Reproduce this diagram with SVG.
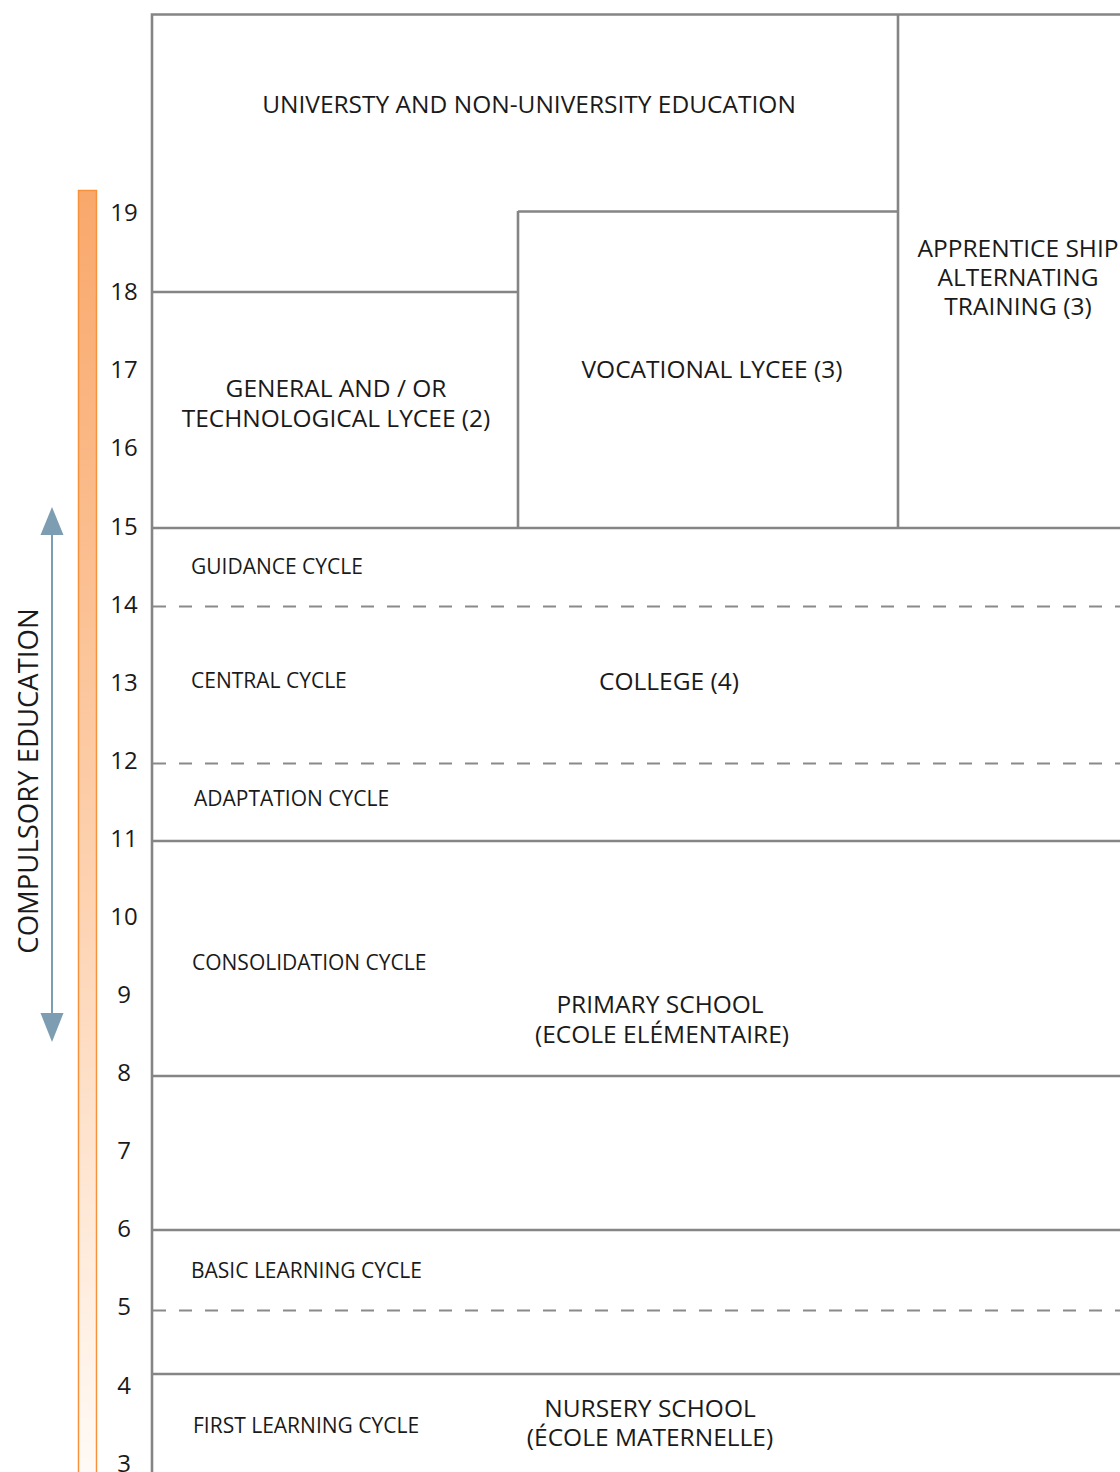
<svg xmlns="http://www.w3.org/2000/svg" width="1120" height="1472" viewBox="0 0 1120 1472">
  <style>
    .frame { stroke: #858585; stroke-width: 2.6; fill: none; }
    .dash { stroke: #8a8a8a; stroke-width: 2.2; fill: none; stroke-dasharray: 13 13; }
    text { font-family: "Open Sans", "Noto Sans", "Liberation Sans", sans-serif; fill: #1a1a1a; }
    .big { font-size: 24.5px; text-anchor: middle; }
    .age { font-size: 24px; text-anchor: middle; }
    .cyc { font-size: 21px; }
  </style>
  <defs>
    <linearGradient id="ageBar" x1="0" y1="0" x2="0" y2="1">
      <stop offset="0" stop-color="#F9A86B"/>
      <stop offset="0.55" stop-color="#FDD3B2"/>
      <stop offset="1" stop-color="#FFFBF7"/>
    </linearGradient>
  </defs>

  <rect width="1120" height="1472" fill="#ffffff"/>

  <!-- age scale bar -->
  <g id="age-bar">
    <rect x="78.5" y="190.5" width="18" height="1290" fill="url(#ageBar)" stroke="#F7923A" stroke-width="1.5"/>
  </g>

  <!-- compulsory education span -->
  <g id="compulsory">
    <line x1="52" y1="533" x2="52" y2="1015" stroke="#7C9DB2" stroke-width="2"/>
    <polygon points="52,507 40.5,535 63.5,535" fill="#7C9DB2"/>
    <polygon points="52,1042 40.5,1013 63.5,1013" fill="#7C9DB2"/>
    <text transform="translate(37.5,781) rotate(-90)" font-size="27.5" text-anchor="middle">COMPULSORY EDUCATION</text>
  </g>

  <!-- ages -->
  <g id="ages">
    <text class="age" x="124" y="221">19</text>
    <text class="age" x="124" y="300">18</text>
    <text class="age" x="124" y="378">17</text>
    <text class="age" x="124" y="456">16</text>
    <text class="age" x="124" y="535">15</text>
    <text class="age" x="124" y="613">14</text>
    <text class="age" x="124" y="691">13</text>
    <text class="age" x="124" y="769">12</text>
    <text class="age" x="124" y="847">11</text>
    <text class="age" x="124" y="925">10</text>
    <text class="age" x="124" y="1003">9</text>
    <text class="age" x="124" y="1081">8</text>
    <text class="age" x="124" y="1159">7</text>
    <text class="age" x="124" y="1237">6</text>
    <text class="age" x="124" y="1315">5</text>
    <text class="age" x="124" y="1394">4</text>
    <text class="age" x="124" y="1472">3</text>
  </g>

  <!-- stage boundaries -->
  <g id="connectors">
    <polyline class="frame" points="152,1472 152,14.5 1120,14.5"/>
    <line class="frame" x1="898" y1="14" x2="898" y2="528"/>
    <line class="frame" x1="518" y1="211.5" x2="898" y2="211.5"/>
    <line class="frame" x1="518" y1="211" x2="518" y2="528"/>
    <line class="frame" x1="152" y1="292" x2="518" y2="292"/>
    <line class="frame" x1="152" y1="528" x2="1120" y2="528"/>
    <line class="frame" x1="152" y1="841" x2="1120" y2="841"/>
    <line class="frame" x1="152" y1="1076" x2="1120" y2="1076"/>
    <line class="frame" x1="152" y1="1230" x2="1120" y2="1230"/>
    <line class="frame" x1="152" y1="1374" x2="1120" y2="1374"/>
    <line class="dash" x1="153" y1="606.5" x2="1120" y2="606.5"/>
    <line class="dash" x1="153" y1="763.5" x2="1120" y2="763.5"/>
    <line class="dash" x1="153" y1="1310.5" x2="1120" y2="1310.5"/>
  </g>

  <g id="higher-education">
    <text class="big" x="529" y="113">UNIVERSTY AND NON-UNIVERSITY EDUCATION</text>
  </g>
  <g id="apprenticeship">
    <text class="big" x="1018" y="257">APPRENTICE SHIP</text>
    <text class="big" x="1018" y="286">ALTERNATING</text>
    <text class="big" x="1018" y="315">TRAINING (3)</text>
  </g>
  <g id="vocational-lycee">
    <text class="big" x="712" y="378">VOCATIONAL LYCEE (3)</text>
  </g>
  <g id="general-lycee">
    <text class="big" x="336" y="397">GENERAL AND / OR</text>
    <text class="big" x="336" y="427">TECHNOLOGICAL LYCEE (2)</text>
  </g>
  <g id="college">
    <text class="cyc" x="191" y="574">GUIDANCE CYCLE</text>
    <text class="cyc" x="191" y="688">CENTRAL CYCLE</text>
    <text class="cyc" x="194" y="806">ADAPTATION CYCLE</text>
    <text class="big" x="669" y="690">COLLEGE (4)</text>
  </g>
  <g id="primary-school">
    <text class="cyc" x="192" y="970">CONSOLIDATION CYCLE</text>
    <text class="big" x="660" y="1013">PRIMARY SCHOOL</text>
    <text class="big" x="662" y="1043">(ECOLE ELÉMENTAIRE)</text>
    <text class="cyc" x="191" y="1278">BASIC LEARNING CYCLE</text>
  </g>
  <g id="nursery-school">
    <text class="cyc" x="193" y="1433">FIRST LEARNING CYCLE</text>
    <text class="big" x="650" y="1417">NURSERY SCHOOL</text>
    <text class="big" x="650" y="1446">(ÉCOLE MATERNELLE)</text>
  </g>
</svg>
